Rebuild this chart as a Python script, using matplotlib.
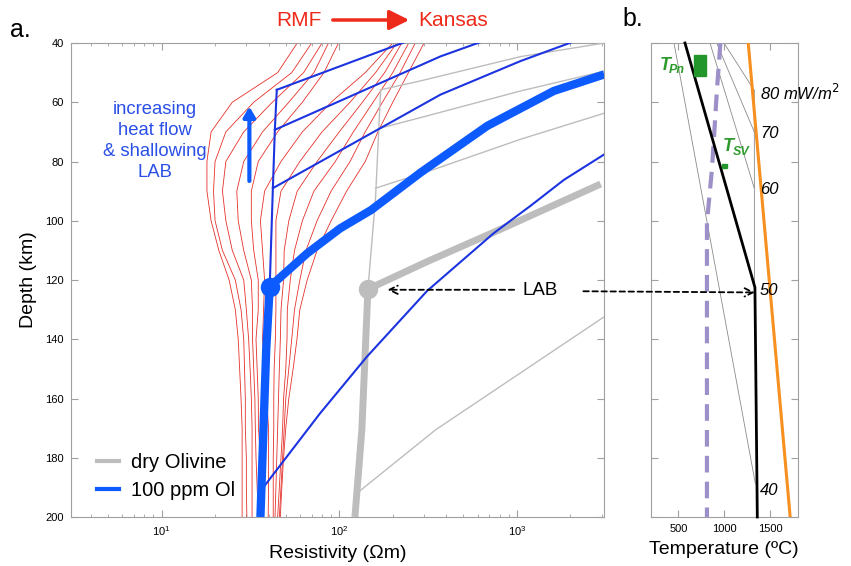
import matplotlib
matplotlib.use("Agg")
import matplotlib.pyplot as plt
import numpy as np
from matplotlib.patches import Rectangle, ConnectionPatch, FancyArrowPatch
from matplotlib.lines import Line2D

plt.rcParams['font.family'] = ['Liberation Sans', 'DejaVu Sans']

# ---------------- data: panel a (resistivity) ----------------
red_depth = [40, 50, 60, 70, 80, 90, 100, 110, 120, 130, 140, 150, 160, 170, 180, 190, 200]
red_models = [
    [58, 45, 25, 19, 18, 18, 19, 21, 24, 26, 27, 27.5, 28, 28.4, 28.4, 28.4, 28.4],
    [70, 54, 33, 23, 20, 19.6, 20, 22, 26, 28, 29, 29.3, 29.6, 29.6, 30, 30, 30.2],
    [80, 63, 42, 29, 23, 22, 23, 25, 29, 30, 30.9, 31.5, 32, 32.3, 32.3, 32.3, 32.3],
    [87, 72, 52, 37, 29, 26.5, 27, 29, 32, 32.5, 32.5, 33, 33.5, 33.7, 34, 34.5, 35],
    [99, 82, 62, 45, 35, 32, 32, 33, 35, 35, 34, 34.5, 35, 35.1, 36, 37, 37.3],
    [200, 140, 90, 62, 47, 38, 36, 37, 38, 37.5, 37, 38, 39, 40, 40, 40, 39.8],
    [211, 160, 115, 80, 60, 47, 44, 44, 44, 44, 43.7, 43, 42.8, 42.8, 42.5, 42.5, 42.5],
    [225, 180, 135, 100, 75, 58, 52, 49, 48.6, 47, 46.6, 46, 45.5, 45, 44.5, 44, 43.5],
    [246, 200, 155, 120, 95, 72, 62, 56, 53, 51, 50.8, 50, 48.6, 48, 47, 46, 45],
    [268, 220, 175, 140, 115, 90, 75, 65, 60, 56, 54, 52, 50, 49, 48, 47, 46],
    [300, 245, 200, 165, 140, 110, 90, 75, 66, 60, 57.8, 55, 52, 50, 48.6, 47.5, 46.6],
]

# 100 ppm olivine (blue)
blue_adiabat_r = [44.5, 43.4, 42.3, 40.6]
blue_adiabat_d = [55.8, 69.3, 89.0, 122.3]
blue_sel_r = [36.0, 38.8, 40.6, 66, 101, 151, 286, 680, 1610, 3100]
blue_sel_d = [200, 143.6, 122.3, 111, 102.6, 96.4, 83.8, 68, 56.2, 50.6]
blue_80_r = [44.5, 241]
blue_80_d = [55.8, 39.4]
blue_70_r = [43.4, 372, 650]
blue_70_d = [69.3, 44.5, 39.3]
blue_60_r = [42.3, 372, 1047, 2130]
blue_60_d = [89.0, 57.4, 46.1, 39.3]
blue_40_r = [37.6, 78, 143, 312, 740, 1190, 1838, 3100]
blue_40_d = [189.8, 165, 145.9, 123.7, 104.2, 95, 86.2, 77.6]

# dry olivine (gray)
gray_adiabat_r = [171, 160, 145]
gray_adiabat_d = [55.8, 92.3, 123.1]
gray_sel_r = [122.5, 134, 145, 312, 807, 2960]
gray_sel_d = [200, 170.6, 123.1, 113.8, 102.9, 87.6]
gray_80_r = [171, 286, 1047, 3100]
gray_80_d = [55.8, 52.8, 44.6, 40]
gray_70_r = [171, 286, 1047, 3100]
gray_70_d = [68.7, 65.2, 56.2, 49.5]
gray_60_r = [160, 340, 1047, 3100]
gray_60_d = [89, 82.7, 72.5, 63.7]
gray_40_r = [128.6, 348, 3100]
gray_40_d = [191.5, 170.6, 132.4]

lab_blue = (40.6, 122.3)
lab_gray = (145, 123.1)

# ---------------- data: panel b (temperature) ----------------
geo_50_T = [571, 1335, 1361]
geo_50_d = [40, 122.5, 200]
geo_thin = {
    '40': ([451, 1339], [40, 188.6]),
    '60': ([844, 1328], [40, 89]),
    '70': ([917, 1328], [40, 70]),
    '80': ([997, 1328], [40, 56]),
}
adiabat_T = [1328, 1330]
adiabat_d = [56, 122.5]
solidus_T = [1262, 1720]
solidus_d = [40, 200]
purple_T = [958, 921, 866, 811, 811]
purple_d = [40, 55.5, 82.5, 100.6, 200]
tpn_T = [675, 805]
tpn_d = [44, 51]
tsv_T = [972, 1033]
tsv_d = [80.7, 82.2]
hf_labels = ['80 mW/m$^2$', '70', '60', '50', '40']
hf_depths = [57, 70.7, 89.6, 123.4, 191]

# ---------------- figure ----------------
W, H = 851, 566
fig = plt.figure(figsize=(W / 100, H / 100), dpi=100)

def axrect(x0, y0, x1, y1):
    return [x0 / W, 1 - y1 / H, (x1 - x0) / W, (y1 - y0) / H]

ax1 = fig.add_axes(axrect(70.7, 43, 604.5, 517))
ax2 = fig.add_axes(axrect(651, 43, 797.5, 517))

THIN_BLUE = '#1c34e0'
THICK_BLUE = '#0d5bff'
GRAY = '#bdbdbd'
RED = '#e5302a'

for r in red_models:
    ax1.plot(r, red_depth, color=RED, lw=0.6, zorder=2)

for rr, dd in [(gray_80_r, gray_80_d), (gray_70_r, gray_70_d), (gray_60_r, gray_60_d),
               (gray_40_r, gray_40_d), (gray_adiabat_r, gray_adiabat_d)]:
    ax1.plot(rr, dd, color=GRAY, lw=1.0, zorder=3)
ax1.plot(gray_sel_r, gray_sel_d, color=GRAY, lw=5, solid_capstyle='butt', zorder=4)
ax1.plot(*lab_gray, 'o', color=GRAY, ms=13, zorder=5)

for rr, dd in [(blue_80_r, blue_80_d), (blue_70_r, blue_70_d), (blue_60_r, blue_60_d),
               (blue_40_r, blue_40_d), (blue_adiabat_r, blue_adiabat_d)]:
    ax1.plot(rr, dd, color=THIN_BLUE, lw=1.5, zorder=6)
ax1.plot(blue_sel_r, blue_sel_d, color=THICK_BLUE, lw=6, solid_capstyle='butt', zorder=7)
ax1.plot(*lab_blue, 'o', color=THICK_BLUE, ms=13, zorder=8)

ax1.set_xscale('log')
ax1.set_xlim(3.08, 3110)
ax1.set_ylim(200, 40)
ax1.set_yticks(np.arange(40, 201, 20))
ax1.set_xlabel('Resistivity (\u03a9m)', fontsize=14, labelpad=5)
ax1.set_ylabel('Depth (km)', fontsize=14, labelpad=6)

# legend
handles = [Line2D([], [], color=GRAY, lw=3), Line2D([], [], color=THICK_BLUE, lw=3)]
ax1.legend(handles, ['dry Olivine', '100 ppm Ol'], loc='lower left', frameon=False,
           fontsize=14.5, handlelength=1.1, handletextpad=0.6, borderaxespad=0, borderpad=0,
           labelspacing=0.45, bbox_to_anchor=(0.049, 0.036))

# annotation: increasing heat flow
ax1.text(9.2, 73.1, 'increasing\nheat flow\n& shallowing\nLAB', color='#2a4fe6', fontsize=13.3,
         ha='center', va='center', linespacing=1.3)
ax1.annotate('', xy=(31.2, 60.5), xytext=(31.2, 87.5),
             arrowprops=dict(arrowstyle='-|>,head_width=0.35,head_length=0.6', color=THICK_BLUE, lw=3))

# LAB annotation
ax1.text(1356, 123.5, 'LAB', fontsize=13.5, ha='center', va='center', zorder=9)
ax1.annotate('', xy=(180, 123.3), xytext=(1000, 123.3),
             arrowprops=dict(arrowstyle='->,head_width=0.3,head_length=0.6', color='black', lw=1.3,
                             linestyle=(0, (3, 2))), zorder=9)
con = ConnectionPatch(xyA=(2366, 123.8), coordsA=ax1.transData,
                      xyB=(1335, 124.2), coordsB=ax2.transData,
                      arrowstyle='->,head_width=0.3,head_length=0.6', color='black', lw=1.3,
                      linestyle=(0, (3, 2)), zorder=10)
fig.add_artist(con)

# ---------------- panel b ----------------
for key, (tt, dd) in geo_thin.items():
    ax2.plot(tt, dd, color='#8a8a8a', lw=0.6, zorder=2)
ax2.plot(adiabat_T, adiabat_d, color='#8a8a8a', lw=0.6, zorder=2)
ax2.plot(solidus_T, solidus_d, color='#f7901e', lw=2.2, zorder=3)
ax2.plot(purple_T, purple_d, color='#9d8fc7', lw=3, dashes=(4, 2.2), zorder=3)
ax2.plot(geo_50_T, geo_50_d, color='black', lw=2, zorder=4, clip_on=False)
ax2.add_patch(Rectangle((tpn_T[0], tpn_d[0]), tpn_T[1] - tpn_T[0], tpn_d[1] - tpn_d[0],
                        color='#22962a', zorder=5))
ax2.add_patch(Rectangle((tsv_T[0], tsv_d[0]), tsv_T[1] - tsv_T[0], tsv_d[1] - tsv_d[0],
                        color='#22962a', zorder=5))
green = '#2e9a2e'
ax2.text(290, 49, 'T', color=green, fontsize=13, fontweight='bold', fontstyle='italic',
         ha='left', va='baseline')
ax2.text(395, 50.2, 'Pn', color=green, fontsize=9, fontweight='bold', fontstyle='italic',
         ha='left', va='baseline')
ax2.text(985, 76.5, 'T', color=green, fontsize=13, fontweight='bold', fontstyle='italic',
         ha='left', va='baseline')
ax2.text(1090, 77.7, 'SV', color=green, fontsize=9, fontweight='bold', fontstyle='italic',
         ha='left', va='baseline')

for lab, dd in zip(hf_labels, hf_depths):
    ax2.text(1390, dd, lab, fontsize=12, fontstyle='italic', ha='left', va='center', clip_on=False)

ax2.set_xlim(200, 1800)
ax2.set_ylim(200, 40)
ax2.set_xticks([500, 1000, 1500])
ax2.set_yticks(np.arange(40, 201, 20))
ax2.set_yticklabels([])
ax2.set_xlabel('Temperature (\u00baC)', fontsize=14, labelpad=5)

for ax in (ax1, ax2):
    for s in ax.spines.values():
        s.set_color('#a0a0a0')
        s.set_linewidth(0.8)
    ax.tick_params(which='both', direction='in', top=True, right=True, color='#a0a0a0',
                   labelsize=8, pad=5)
    ax.tick_params(which='major', length=5)
    ax.tick_params(which='minor', length=2.5)

# panel labels and title
fig.text(10 / W, 1 - 30 / H, 'a.', fontsize=18, ha='left', va='center')
fig.text(622 / W, 1 - 19 / H, 'b.', fontsize=18, ha='left', va='center')
fig.text(322 / W, 1 - 20 / H, 'RMF', fontsize=15, color='#ee2a1a', ha='right', va='center')
fig.text(418 / W, 1 - 20 / H, 'Kansas', fontsize=15, color='#ee2a1a', ha='left', va='center')
fig.add_artist(FancyArrowPatch((330 / W, 1 - 20 / H), (412 / W, 1 - 20 / H),
               transform=fig.transFigure, arrowstyle='-|>,head_width=0.3,head_length=0.6',
               color='#ee2a1a', lw=2.5, mutation_scale=20))

fig.savefig('out.png', dpi=100)
